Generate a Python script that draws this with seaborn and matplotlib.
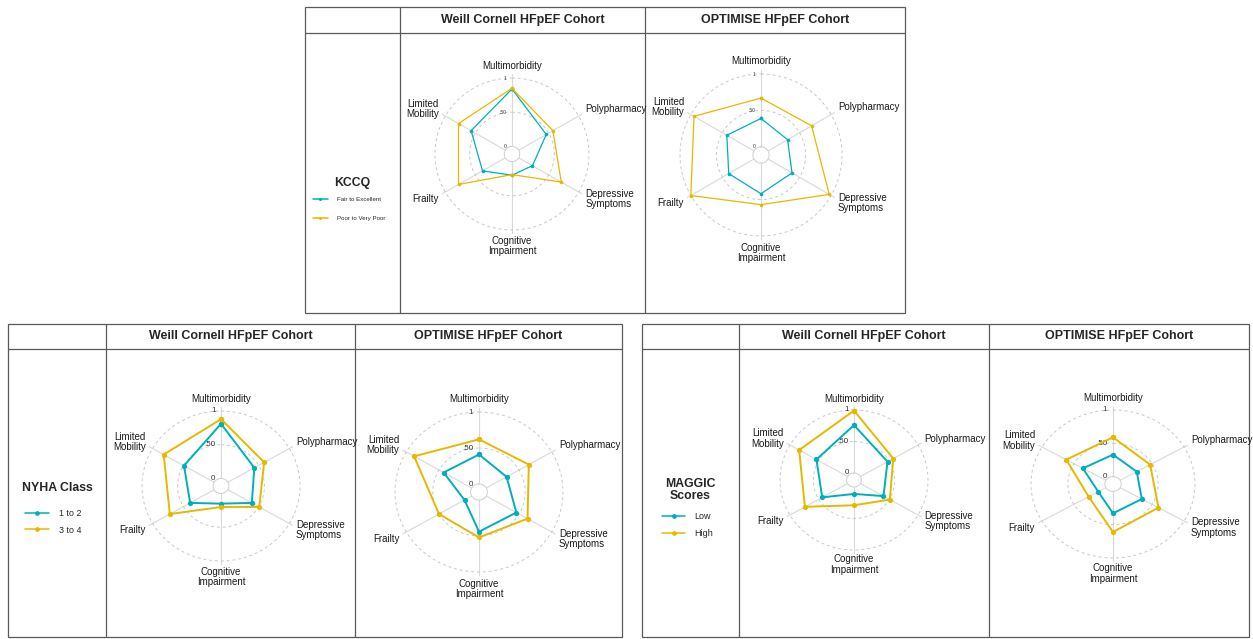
import numpy as np
import pandas as pd
import matplotlib
matplotlib.use('Agg')
import matplotlib.pyplot as plt
import seaborn as sns
from matplotlib.lines import Line2D
from matplotlib.legend import Legend
from matplotlib.patches import Rectangle

sns.set_style('white')
plt.rcParams['font.family'] = ['Liberation Sans', 'DejaVu Sans']

# spokes, clockwise from top
domains = ['Multimorbidity', 'Polypharmacy', 'Depressive\nSymptoms',
           'Cognitive\nImpairment', 'Frailty', 'Limited\nMobility']
cohorts = ['Weill Cornell HFpEF Cohort', 'OPTIMISE HFpEF Cohort']

# KCCQ
kccq_groups = ['Fair to Excellent', 'Poor to Very Poor']
kccq_wc_fair = [0.84, 0.46, 0.23, 0.20, 0.38, 0.57]
kccq_wc_poor = [0.85, 0.57, 0.71, 0.19, 0.78, 0.78]
kccq_opt_fair = [0.39, 0.31, 0.38, 0.42, 0.40, 0.43]
kccq_opt_poor = [0.67, 0.69, 0.97, 0.57, 1.00, 0.95]

# NYHA class
nyha_groups = ['1 to 2', '3 to 4']
nyha_wc_12 = [0.81, 0.43, 0.39, 0.15, 0.39, 0.49]
nyha_wc_34 = [0.88, 0.59, 0.51, 0.20, 0.72, 0.82]
nyha_opt_12 = [0.41, 0.31, 0.46, 0.44, 0.11, 0.43]
nyha_opt_34 = [0.62, 0.65, 0.63, 0.52, 0.50, 0.88]

# MAGGIC scores
maggic_groups = ['Low', 'High']
maggic_wc_low = [0.76, 0.47, 0.40, 0.11, 0.44, 0.54]
maggic_wc_high = [0.99, 0.57, 0.51, 0.29, 0.74, 0.84]
maggic_opt_low = [0.33, 0.26, 0.34, 0.33, 0.12, 0.36]
maggic_opt_high = [0.59, 0.47, 0.60, 0.61, 0.27, 0.62]

grid_vals = [0, 0.5, 1]
grid_labs = ['0', '.50', '1']

TEAL = '#00AFBB'
GOLD = '#E7B800'
EDGE = '#5a5a5a'

W, H = 1253, 639
fig = plt.figure(figsize=(W / 100, H / 100), dpi=100)

# overlay for the table frames, in pixel units
frame = fig.add_axes([0, 0, 1, 1])
frame.set_xlim(0, W)
frame.set_ylim(H, 0)
frame.axis('off')

HOLE = 1 / 9
RMAX = 1.06
angles = np.linspace(0, 2 * np.pi, len(domains), endpoint=False)


def polar_pos(x, y):
    # cartesian position (1 = grid max circle) -> (theta, r) in data units
    rho = np.hypot(x, y)
    return np.arctan2(x, y), rho * (1 + HOLE) - HOLE


def radar(cx, cy, rh, rv, vals_a, vals_b, groups, small):
    frac = (1 + HOLE) / (RMAX + HOLE)
    w, h = 2 * rh / frac, 2 * rv / frac
    ax = fig.add_axes([(cx - w / 2) / W, 1 - (cy + h / 2) / H, w / W, h / H],
                      projection='polar')
    ax.set_aspect('auto')
    ax.set_theta_offset(np.pi / 2)
    ax.set_theta_direction(-1)

    df = pd.DataFrame({
        'theta': np.r_[angles, 2 * np.pi, angles, 2 * np.pi],
        'value': np.r_[vals_a, vals_a[0], vals_b, vals_b[0]],
        'group': [groups[0]] * 7 + [groups[1]] * 7,
    })
    sns.lineplot(data=df, x='theta', y='value', hue='group',
                 hue_order=groups, palette=[TEAL, GOLD], sort=False,
                 estimator=None, marker='o',
                 markersize=2.6 if small else 3.8, markeredgewidth=0,
                 linewidth=0.9 if small else 1.4, legend=False, ax=ax,
                 zorder=5)
    ax.set_xlabel('')
    ax.set_ylabel('')
    ax.set_ylim(0, RMAX)
    ax.set_rorigin(-HOLE)

    ax.set_xticks(angles)
    ax.set_xticklabels([])
    ax.set_yticks([])
    ax.tick_params(length=0)
    ax.xaxis.grid(True, color='#d9d9d9', lw=0.8)
    ax.spines['polar'].set_visible(False)
    ax.spines['inner'].set_color('#cfcfcf')
    ax.spines['inner'].set_linewidth(0.7)
    ax.patch.set_alpha(0)

    tt = np.linspace(0, 2 * np.pi, 300)
    for g in grid_vals[1:]:
        ax.plot(tt, np.full_like(tt, g), color='#c8c8c8', lw=0.7,
                ls=(0, (3, 3)), zorder=1)

    # grid value labels, left of the vertical spoke
    for g, lab in zip(grid_vals, grid_labs):
        th, r = polar_pos(-0.07, (g + HOLE) / (1 + HOLE))
        ax.text(th, r, lab, ha='right', va='center',
                fontsize=3.6 if small else 5.8, color='#333333')

    # domain labels
    for a, lab in zip(angles, domains):
        s, c = np.sin(a), np.cos(a)
        if abs(s) < 0.1:
            th, r = polar_pos(0, (1.21 if c < 0 else 1.16) * np.sign(c))
            ha = 'center'
        else:
            th, r = polar_pos(0.95 * np.sign(s), 0.59 * np.sign(c))
            ha = 'left' if s > 0 else 'right'
        ax.text(th, r, lab, ha=ha, va='center', fontsize=7,
                color='#1a1a1a', linespacing=1.05)
    return ax


def panel(x0, x1, y0, y1, yh, xl, xm):
    frame.add_patch(Rectangle((x0, y0), x1 - x0, y1 - y0, fill=False,
                              ec=EDGE, lw=0.9))
    frame.plot([x0, x1], [yh, yh], color=EDGE, lw=0.9)
    frame.plot([xl, xl], [y0, y1], color=EDGE, lw=0.9)
    frame.plot([xm, xm], [y0, y1], color=EDGE, lw=0.9)
    frame.text((xl + xm) / 2, (y0 + yh) / 2, cohorts[0], ha='center',
               va='center', fontsize=9, fontweight='bold')
    frame.text((xm + x1) / 2, (y0 + yh) / 2, cohorts[1], ha='center',
               va='center', fontsize=9, fontweight='bold')


def side_legend(x, y, groups, fs, hl, pad, spacing, ms):
    handles = [Line2D([], [], color=c, lw=1.1, marker='o', markersize=ms,
                      markeredgewidth=0) for c in (TEAL, GOLD)]
    lg = Legend(frame, handles, groups, loc='upper left',
                bbox_to_anchor=(x, y), bbox_transform=frame.transData,
                frameon=False, fontsize=fs, handlelength=hl,
                handletextpad=pad, labelspacing=spacing, borderpad=0,
                borderaxespad=0)
    frame.add_artist(lg)


# top panel: KCCQ
panel(305, 905, 7, 313, 33, 400, 645)
frame.text(352, 183, 'KCCQ', ha='center', va='center', fontsize=8.8,
           fontweight='bold')
radar(512, 154, 77, 76, kccq_wc_fair, kccq_wc_poor, kccq_groups, True)
radar(761, 155, 81, 81, kccq_opt_fair, kccq_opt_poor, kccq_groups, True)
side_legend(313, 196.5, kccq_groups, 4.4, 2.45, 1.5, 2.3, 2.2)

# bottom left: NYHA class
panel(8, 622, 324, 637, 349, 106, 355)
frame.text(57, 488, 'NYHA Class', ha='center', va='center', fontsize=8.8,
           fontweight='bold')
radar(221, 486, 79, 75, nyha_wc_12, nyha_wc_34, nyha_groups, False)
radar(479, 492, 84, 80, nyha_opt_12, nyha_opt_34, nyha_groups, False)
side_legend(25, 509, nyha_groups, 6.4, 2.7, 1.1, 0.85, 3.4)

# bottom right: MAGGIC
panel(642, 1249, 324, 637, 349, 739, 989)
frame.text(690, 490, 'MAGGIC\nScores', ha='center', va='center',
           fontsize=8.8, fontweight='bold', linespacing=1.1)
radar(854, 480, 74, 70, maggic_wc_low, maggic_wc_high, maggic_groups, False)
radar(1113, 484, 82, 74, maggic_opt_low, maggic_opt_high, maggic_groups, False)
side_legend(662, 512, maggic_groups, 6.5, 2.55, 1.0, 0.94, 3.4)

fig.savefig('out.png', dpi=100)
